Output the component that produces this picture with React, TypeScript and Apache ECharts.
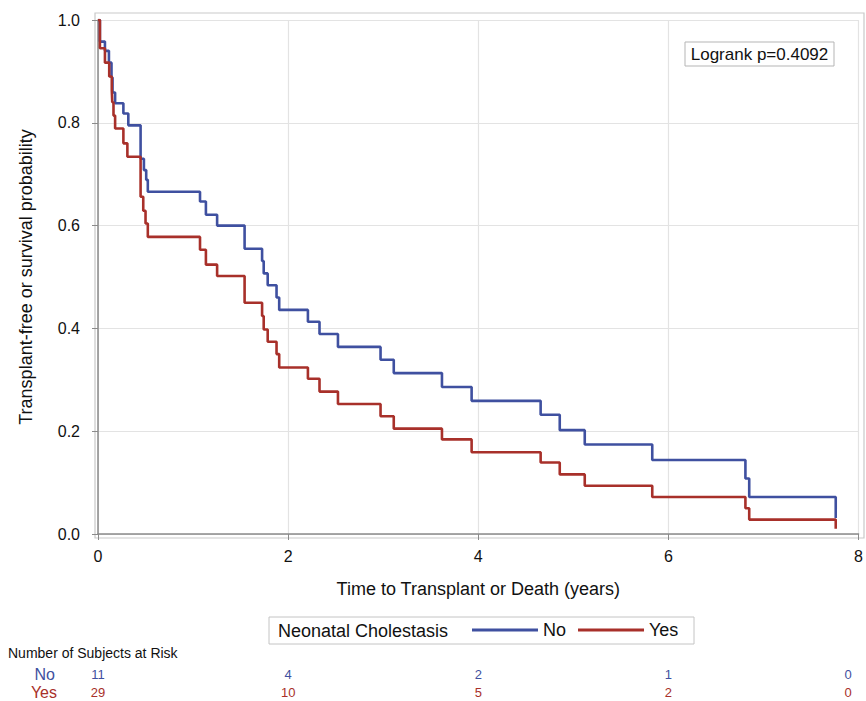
import React, { useEffect, useRef } from "react";
import * as echarts from "echarts";

// Kaplan-Meier step points (time in years, survival probability)
const noTimes = [0, 0.02, 0.073, 0.115, 0.142, 0.153, 0.18, 0.267, 0.319, 0.448, 0.483, 0.507, 0.524, 1.073, 1.135, 1.253, 1.542, 1.726, 1.743, 1.785, 1.878, 1.906, 2.208, 2.33, 2.524, 2.972, 3.111, 3.618, 3.93, 4.656, 4.857, 5.12, 5.83, 6.81, 6.85, 7.76];
const noSurv = [1.0, 0.958, 0.94, 0.917, 0.888, 0.859, 0.838, 0.818, 0.795, 0.73, 0.708, 0.689, 0.666, 0.647, 0.621, 0.6, 0.555, 0.531, 0.507, 0.484, 0.46, 0.436, 0.413, 0.389, 0.364, 0.339, 0.313, 0.286, 0.259, 0.232, 0.202, 0.174, 0.144, 0.108, 0.072, 0.031];

const yesTimes = [0, 0.02, 0.073, 0.118, 0.145, 0.15, 0.163, 0.18, 0.267, 0.309, 0.448, 0.476, 0.5, 0.524, 1.073, 1.135, 1.253, 1.542, 1.726, 1.743, 1.785, 1.878, 1.906, 2.208, 2.33, 2.524, 2.972, 3.111, 3.618, 3.93, 4.656, 4.857, 5.12, 5.83, 6.81, 6.85, 7.76];
const yesSurv = [1.0, 0.945, 0.917, 0.89, 0.863, 0.84, 0.814, 0.789, 0.76, 0.734, 0.656, 0.629, 0.604, 0.578, 0.553, 0.524, 0.502, 0.45, 0.424, 0.398, 0.374, 0.35, 0.324, 0.302, 0.277, 0.253, 0.229, 0.205, 0.184, 0.159, 0.139, 0.116, 0.094, 0.072, 0.05, 0.028, 0.01];

const atRiskTimes = [0, 2, 4, 6, 8];
const atRiskNo = [11, 4, 2, 1, 0];
const atRiskYes = [29, 10, 5, 2, 0];

const groupNames = ["No", "Yes"];
const legendTitle = "Neonatal Cholestasis";
const logrankText = "Logrank p=0.4092";
const atRiskTitle = "Number of Subjects at Risk";

const BLUE = "#3f50a0";
const RED = "#a8302a";
const FONT = "'Liberation Sans', Arial, sans-serif";

export default function App() {
  const ref = useRef<HTMLDivElement>(null);
  useEffect(() => {
    if (!ref.current) return;
    const chart = echarts.init(ref.current, null, { renderer: "svg" });
    const toPairs = (ts: number[], vs: number[]) => ts.map((t, i) => [t, vs[i]]);
    chart.setOption({
      animation: false,
      textStyle: { fontFamily: FONT },
      grid: { left: 98, right: 4, top: 20, bottom: 167, containLabel: false },
      xAxis: {
        type: "value",
        min: 0,
        max: 8,
        interval: 2,
        offset: 4,
        name: "Time to Transplant or Death (years)",
        nameLocation: "middle",
        nameGap: 42,
        nameTextStyle: { fontSize: 18, color: "#111", fontFamily: FONT },
        axisLine: { show: true, lineStyle: { color: "#8a8a8a", width: 1.5 } },
        axisTick: { show: true, length: 6, lineStyle: { color: "#8a8a8a" } },
        axisLabel: { fontSize: 16, color: "#111", margin: 10, fontFamily: FONT },
        splitLine: { show: true, lineStyle: { color: "#e3e3e3", width: 1.2 } },
      },
      yAxis: {
        type: "value",
        min: 0,
        max: 1,
        interval: 0.2,
        offset: 3,
        name: "Transplant-free or survival probability",
        nameLocation: "middle",
        nameGap: 60,
        nameTextStyle: { fontSize: 18, color: "#111", fontFamily: FONT },
        axisLine: { show: true, lineStyle: { color: "#8a8a8a", width: 1.5 } },
        axisTick: { show: true, length: 6, lineStyle: { color: "#8a8a8a" } },
        axisLabel: {
          fontSize: 16,
          color: "#111",
          margin: 15,
          fontFamily: FONT,
          formatter: (v: number) => v.toFixed(1),
        },
        splitLine: { show: true, lineStyle: { color: "#e3e3e3", width: 1.2 } },
      },
      legend: {
        data: groupNames,
        left: 472,
        top: 621,
        padding: 0,
        icon: "rect",
        itemWidth: 66,
        itemHeight: 3,
        itemGap: 12,
        textStyle: { fontSize: 18, color: "#111", fontFamily: FONT },
      },
      series: [
        {
          name: groupNames[0],
          type: "line",
          step: "end",
          data: toPairs(noTimes, noSurv),
          showSymbol: false,
          symbol: "none",
          color: BLUE,
          lineStyle: { color: BLUE, width: 2.6 },
          z: 3,
        },
        {
          name: groupNames[1],
          type: "line",
          step: "end",
          data: toPairs(yesTimes, yesSurv),
          showSymbol: false,
          symbol: "none",
          color: RED,
          lineStyle: { color: RED, width: 2.6 },
          z: 4,
        },
      ],
    });

    const px = (t: number) => chart.convertToPixel({ xAxisIndex: 0 }, t) as number;
    const graphics: any[] = [
      // plot frame
      {
        type: "rect",
        shape: { x: 95, y: 13, width: 769, height: 525 },
        style: { fill: "none", stroke: "#c9c9c9", lineWidth: 1.2 },
        silent: true,
        z: 0,
      },
      // logrank box
      {
        type: "rect",
        shape: { x: 685, y: 42, width: 149, height: 24 },
        style: { fill: "#fff", stroke: "#b5b5b5", lineWidth: 1 },
        z: 10,
      },
      {
        type: "text",
        x: 759.5,
        y: 54,
        style: { text: logrankText, fontSize: 17, fill: "#111", align: "center", verticalAlign: "middle", fontFamily: FONT },
        z: 11,
      },
      // legend box
      {
        type: "rect",
        shape: { x: 269, y: 617, width: 425, height: 27 },
        style: { fill: "none", stroke: "#c4c4c4", lineWidth: 1 },
        z: 10,
      },
      {
        type: "text",
        x: 278,
        y: 630.5,
        style: { text: legendTitle, fontSize: 18, fill: "#111", verticalAlign: "middle", fontFamily: FONT },
        z: 11,
      },
      // at-risk table
      {
        type: "text",
        x: 8,
        y: 653,
        style: { text: atRiskTitle, fontSize: 14, fill: "#111", verticalAlign: "middle", fontFamily: FONT },
      },
      {
        type: "text",
        x: 55,
        y: 674,
        style: { text: groupNames[0], fontSize: 16, fill: BLUE, align: "right", verticalAlign: "middle", fontFamily: FONT },
      },
      {
        type: "text",
        x: 57,
        y: 692,
        style: { text: groupNames[1], fontSize: 16, fill: RED, align: "right", verticalAlign: "middle", fontFamily: FONT },
      },
    ];
    atRiskTimes.forEach((t, i) => {
      const x = Math.min(px(t), 848);
      graphics.push({
        type: "text",
        x,
        y: 674,
        style: { text: String(atRiskNo[i]), fontSize: 13, fill: BLUE, align: "center", verticalAlign: "middle", fontFamily: FONT },
      });
      graphics.push({
        type: "text",
        x,
        y: 692,
        style: { text: String(atRiskYes[i]), fontSize: 13, fill: RED, align: "center", verticalAlign: "middle", fontFamily: FONT },
      });
    });
    chart.setOption({ graphic: graphics });

    return () => chart.dispose();
  }, []);
  return (
    <div
      ref={ref}
      style={{ position: "fixed", left: 0, top: 0, width: 866, height: 701, background: "#fff" }}
    />
  );
}
